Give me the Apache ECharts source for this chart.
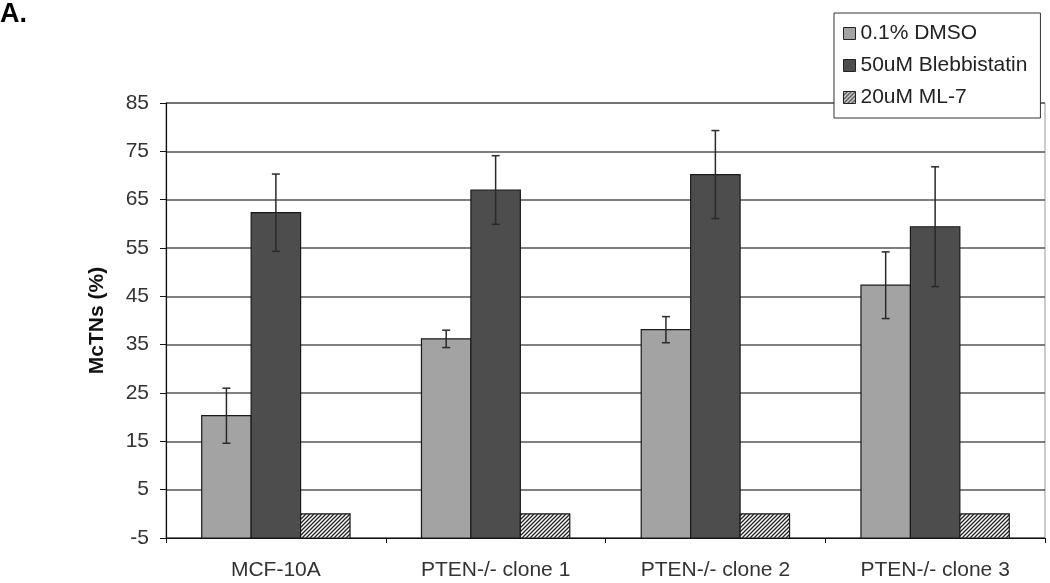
<!DOCTYPE html>
<html><head><meta charset="utf-8">
<script src="https://cdn.jsdelivr.net/npm/echarts@6/dist/echarts.min.js"></script>
<style>html,body{margin:0;padding:0;background:#fff}#c{width:1050px;height:583px}</style>
</head><body><div id="c"></div>
<script>
const categories = ['MCF-10A', 'PTEN-/- clone 1', 'PTEN-/- clone 2', 'PTEN-/- clone 3'];
const seriesNames = ['0.1% DMSO', '50uM Blebbistatin', '20uM ML-7'];
const dmsoMean = [20.3, 36.2, 38.1, 47.3];
const dmsoErr  = [5.7, 1.8, 2.7, 6.9];
const blebMean = [62.3, 67.0, 70.2, 59.4];
const blebErr  = [8.0, 7.1, 9.1, 12.4];
const ml7Mean  = [0, 0, 0, 0];
const ml7Err   = [0, 0, 0, 0];
const yMin = -5, yMax = 85, yStep = 10;

function hatch() {
  const c = document.createElement('canvas');
  c.width = 4; c.height = 4;
  const g = c.getContext('2d');
  g.fillStyle = '#fff'; g.fillRect(0, 0, 4, 4);
  g.strokeStyle = '#222'; g.lineWidth = 1.3;
  g.beginPath();
  g.moveTo(0, 4); g.lineTo(4, 0);
  g.moveTo(-1, 1); g.lineTo(1, -1);
  g.moveTo(3, 5); g.lineTo(5, 3);
  g.stroke();
  return c;
}
const hatchPattern = { image: hatch(), repeat: 'repeat' };
const fills = ['#a3a3a3', '#4d4d4d', hatchPattern];
const means = [dmsoMean, blebMean, ml7Mean];
const errs = [dmsoErr, blebErr, ml7Err];
const FONT = 'Liberation Sans, Arial, sans-serif';

function makeRender(si) {
  return function (params, api) {
    const idx = api.value(0), v = api.value(1), e = api.value(2);
    const band = api.size([1, 0])[0];
    const bw = band * 0.225;
    const base = api.coord([idx, yMin]);
    const top = api.coord([idx, v]);
    const cx = base[0] + (si - 1) * bw;
    const children = [{
      type: 'rect',
      shape: { x: cx - bw / 2, y: top[1], width: bw, height: base[1] - top[1] },
      style: { fill: fills[si], stroke: '#1a1a1a', lineWidth: 1.2 }
    }];
    if (e > 0) {
      const hi = api.coord([idx, v + e])[1], lo = api.coord([idx, v - e])[1];
      const st = { stroke: '#2a2a2a', lineWidth: 1.5 };
      children.push({ type: 'line', shape: { x1: cx, y1: hi, x2: cx, y2: lo }, style: st });
      children.push({ type: 'line', shape: { x1: cx - 4, y1: hi, x2: cx + 4, y2: hi }, style: st });
      children.push({ type: 'line', shape: { x1: cx - 4, y1: lo, x2: cx + 4, y2: lo }, style: st });
    }
    return { type: 'group', children };
  };
}

const chart = echarts.init(document.getElementById('c'), null, { renderer: 'canvas' });
chart.setOption({
  animation: false,
  backgroundColor: '#fff',
  title: { text: 'A.', left: 0, top: 1, padding: 0,
    textStyle: { fontSize: 27, fontWeight: 'bold', color: '#000', fontFamily: FONT } },
  legend: {
    orient: 'vertical', left: 834, top: 13,
    padding: [10, 13, 10, 9], itemGap: 11,
    itemWidth: 12, itemHeight: 12, icon: 'rect',
    backgroundColor: '#fff', borderColor: '#333', borderWidth: 1,
    textStyle: { fontSize: 21, color: '#222', fontFamily: FONT },
    data: seriesNames.map((n, i) => ({ name: n, itemStyle: { color: fills[i], borderColor: '#222', borderWidth: 1 } }))
  },
  grid: { left: 166, right: 5, top: 103, bottom: 45, show: true, borderColor: '#999', borderWidth: 1, backgroundColor: 'transparent' },
  xAxis: {
    type: 'category', data: categories,
    axisLine: { onZero: false, lineStyle: { color: '#111', width: 1.2 } },
    axisTick: { show: true, length: 5, lineStyle: { color: '#111' } },
    axisLabel: { margin: 22, fontSize: 21, color: '#333', fontFamily: FONT },
    splitLine: { show: false }
  },
  yAxis: {
    type: 'value', min: yMin, max: yMax, interval: yStep,
    name: 'McTNs (%)', nameLocation: 'middle', nameGap: 58,
    nameTextStyle: { fontSize: 21, fontWeight: 'bold', color: '#111', fontFamily: FONT },
    axisLine: { show: true, lineStyle: { color: '#111', width: 1.2 } },
    axisTick: { show: true, length: 6, lineStyle: { color: '#111' } },
    axisLabel: { margin: 17, fontSize: 21, color: '#333', fontFamily: FONT },
    splitLine: { show: true, lineStyle: { color: '#555', width: 1.5 } }
  },
  series: seriesNames.map((n, si) => ({
    name: n, type: 'custom',
    itemStyle: { color: fills[si] },
    encode: { x: 0, y: 1 },
    data: categories.map((c, i) => [i, means[si][i], errs[si][i]]),
    renderItem: makeRender(si)
  }))
});
</script></body></html>
